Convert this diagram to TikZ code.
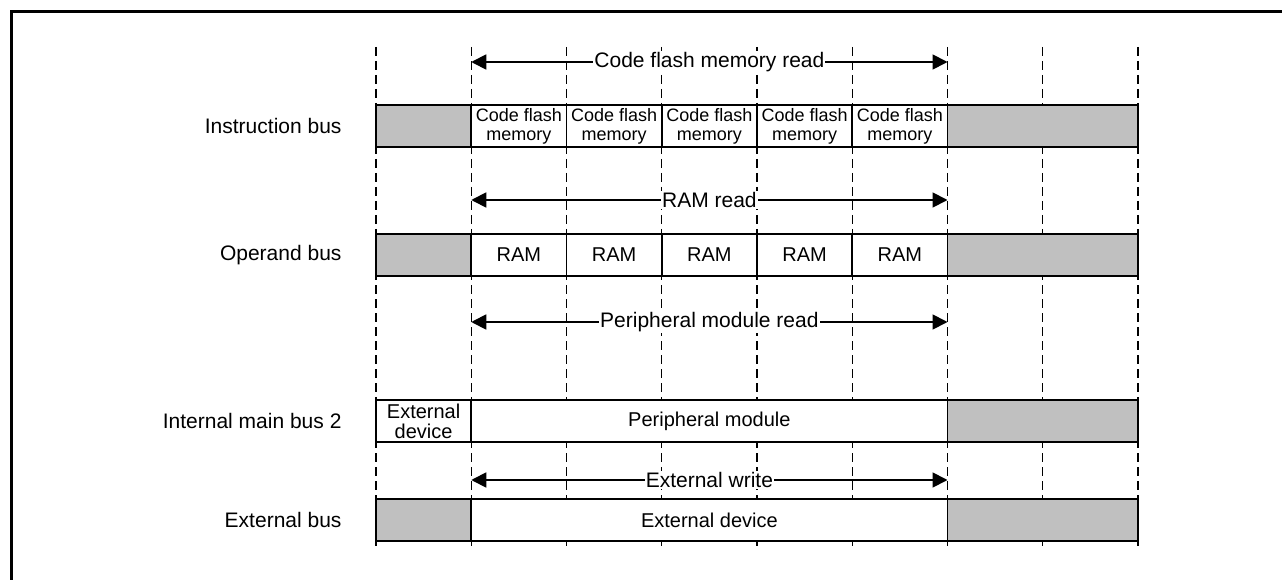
\documentclass[tikz,border=0pt]{standalone}
\usepackage{fontspec}
\setmainfont{Liberation Sans}
\usetikzlibrary{arrows.meta,positioning}
\definecolor{busgrey}{RGB}{192,192,192}

\begin{document}
\begin{tikzpicture}[x=1pt,y=-1pt,
  cell/.style={draw, line width=1.8pt, fill=white, minimum height=42pt,
    inner sep=0pt, align=center, font=\fontsize{20}{20}\selectfont},
  greycell/.style={cell, fill=busgrey},
  flashtext/.style={font=\fontsize{18}{19}\selectfont},
  busname/.style={anchor=east, font=\fontsize{21}{21}\selectfont},
  span/.style={line width=1.8pt,
    {Triangle[length=15pt,width=15pt]}-{Triangle[length=15pt,width=15pt]}},
  spanlabel/.style={fill=white, inner sep=1pt, font=\fontsize{21}{21}\selectfont},
  gridline/.style={line width=1.3pt, dash pattern=on 9pt off 5pt}]
\useasboundingbox (0,0) rectangle (1282,580);

% frame
\draw[line width=3pt] (11,580) -- (11,12) -- (1282,12);

% time slots
\foreach \i in {0,...,8}
  \draw[gridline] ({376+95.25*\i},47) -- ({376+95.25*\i},548);

% Instruction bus
\node[busname] (ibname) at (345,126) {Instruction bus};
\node[greycell, minimum width=95.25pt] (ib0) at (423.625,126) {};
\foreach \i in {1,...,5}
  \node[cell, flashtext, minimum width=95.25pt] (ib\i) at ({376+95.25*(\i+0.5)},126) {Code flash\\memory};
\node[greycell, minimum width=190.5pt] (ib6) at (1042.75,126) {};

% Operand bus
\node[busname] (obname) at (345,255) {Operand bus};
\node[greycell, minimum width=95.25pt] (ob0) at (423.625,255) {};
\foreach \i in {1,...,5}
  \node[cell, minimum width=95.25pt] (ob\i) at ({376+95.25*(\i+0.5)},255) {RAM};
\node[greycell, minimum width=190.5pt] (ob6) at (1042.75,255) {};

% Internal main bus 2
\node[busname] (imname) at (345,421) {Internal main bus 2};
\node[cell, minimum width=95.25pt, font=\fontsize{20}{20}\selectfont] (im0) at (423.625,421) {External\\device};
\node[cell, minimum width=476.25pt] (im1) at (709.375,421) {Peripheral module};
\node[greycell, minimum width=190.5pt] (im2) at (1042.75,421) {};

% External bus
\node[busname] (exname) at (345,520) {External bus};
\node[greycell, minimum width=95.25pt] (ex0) at (423.625,520) {};
\node[cell, minimum width=476.25pt] (ex1) at (709.375,520) {External device};
\node[greycell, minimum width=190.5pt] (ex2) at (1042.75,520) {};

% accesses
\coordinate (cfa) at (471.25,62);  \coordinate (cfb) at (947.5,62);
\coordinate (rma) at (471.25,200); \coordinate (rmb) at (947.5,200);
\coordinate (pma) at (471.25,322); \coordinate (pmb) at (947.5,322);
\coordinate (exa) at (471.25,480); \coordinate (exb) at (947.5,480);
\draw[span] (cfa) -- node[spanlabel] (cflabel) {Code flash memory read} (cfb);
\draw[span] (rma) -- node[spanlabel] (rmlabel) {RAM read} (rmb);
\draw[span] (pma) -- node[spanlabel] (pmlabel) {Peripheral module read} (pmb);
\draw[span] (exa) -- node[spanlabel] (exlabel) {External write} (exb);
\end{tikzpicture}
\end{document}
